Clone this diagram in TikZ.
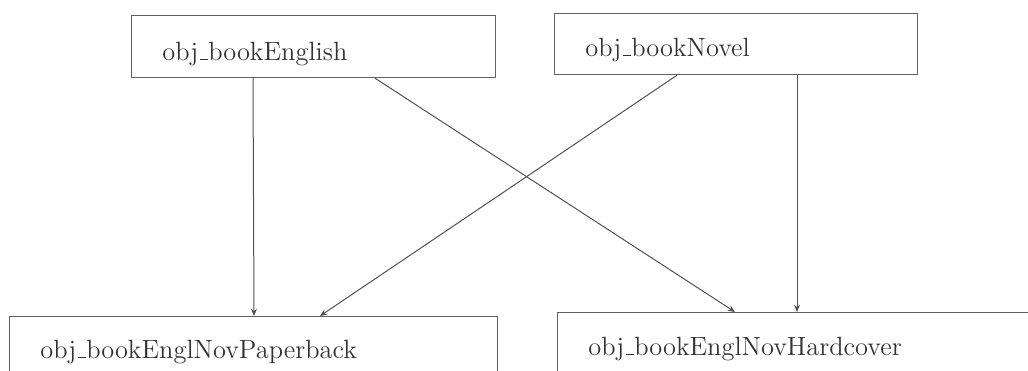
\documentclass[tikz,border=0pt]{standalone}
\usetikzlibrary{arrows.meta}
% short baseline underscore, as in the classic Computer Modern \_
\newcommand\usc{\leavevmode\kern.06em\vbox{\hrule width.3em height .45pt}\kern.02em}
\begin{document}
\begin{tikzpicture}[x=0.5pt,y=-0.5pt,
  box/.style={draw=black!62,line width=0.6pt,anchor=north west,inner sep=0pt},
  lbl/.style={anchor=base west,inner sep=0pt,text=black!80,font=\fontsize{13.2}{15}\selectfont},
  arr/.style={draw=black!68,line width=0.5pt,-{Stealth[length=3.6pt,width=3pt]}}]
  \clip (0,0) rectangle (1028,370);
  \fill[white] (0,0) rectangle (1028,370);
  % parent objects
  \node[box,minimum width=182pt,minimum height=31pt] (eng) at (131,15) {};
  \node[box,minimum width=181.5pt,minimum height=30.5pt] (nov) at (554,13) {};
  % derived objects (run past the lower and right edges)
  \node[box,minimum width=244pt,minimum height=60pt] (pap) at (9,316) {};
  \node[box,minimum width=290pt,minimum height=62pt] (hard) at (557,312) {};
  % labels
  \node[lbl] (tEng) at (162,60) {obj\usc bookEnglish};
  \node[lbl] (tNov) at (585,56) {obj\usc bookNovel};
  \node[lbl] (tPap) at (40,358) {obj\usc bookEnglNovPaperback};
  \node[lbl] (tHard) at (588,355) {obj\usc bookEnglNovHardcover};
  % inheritance arrows
  \draw[arr] ([xshift=61pt]eng.south west) -- ([xshift=122.5pt]pap.north west);
  \draw[arr] ([xshift=122pt]eng.south west) -- ([xshift=89pt]hard.north west);
  \draw[arr] ([xshift=61.5pt]nov.south west) -- ([xshift=155.5pt]pap.north west);
  \draw[arr] ([xshift=121.5pt]nov.south west) -- ([xshift=120pt]hard.north west);
\end{tikzpicture}
\end{document}
